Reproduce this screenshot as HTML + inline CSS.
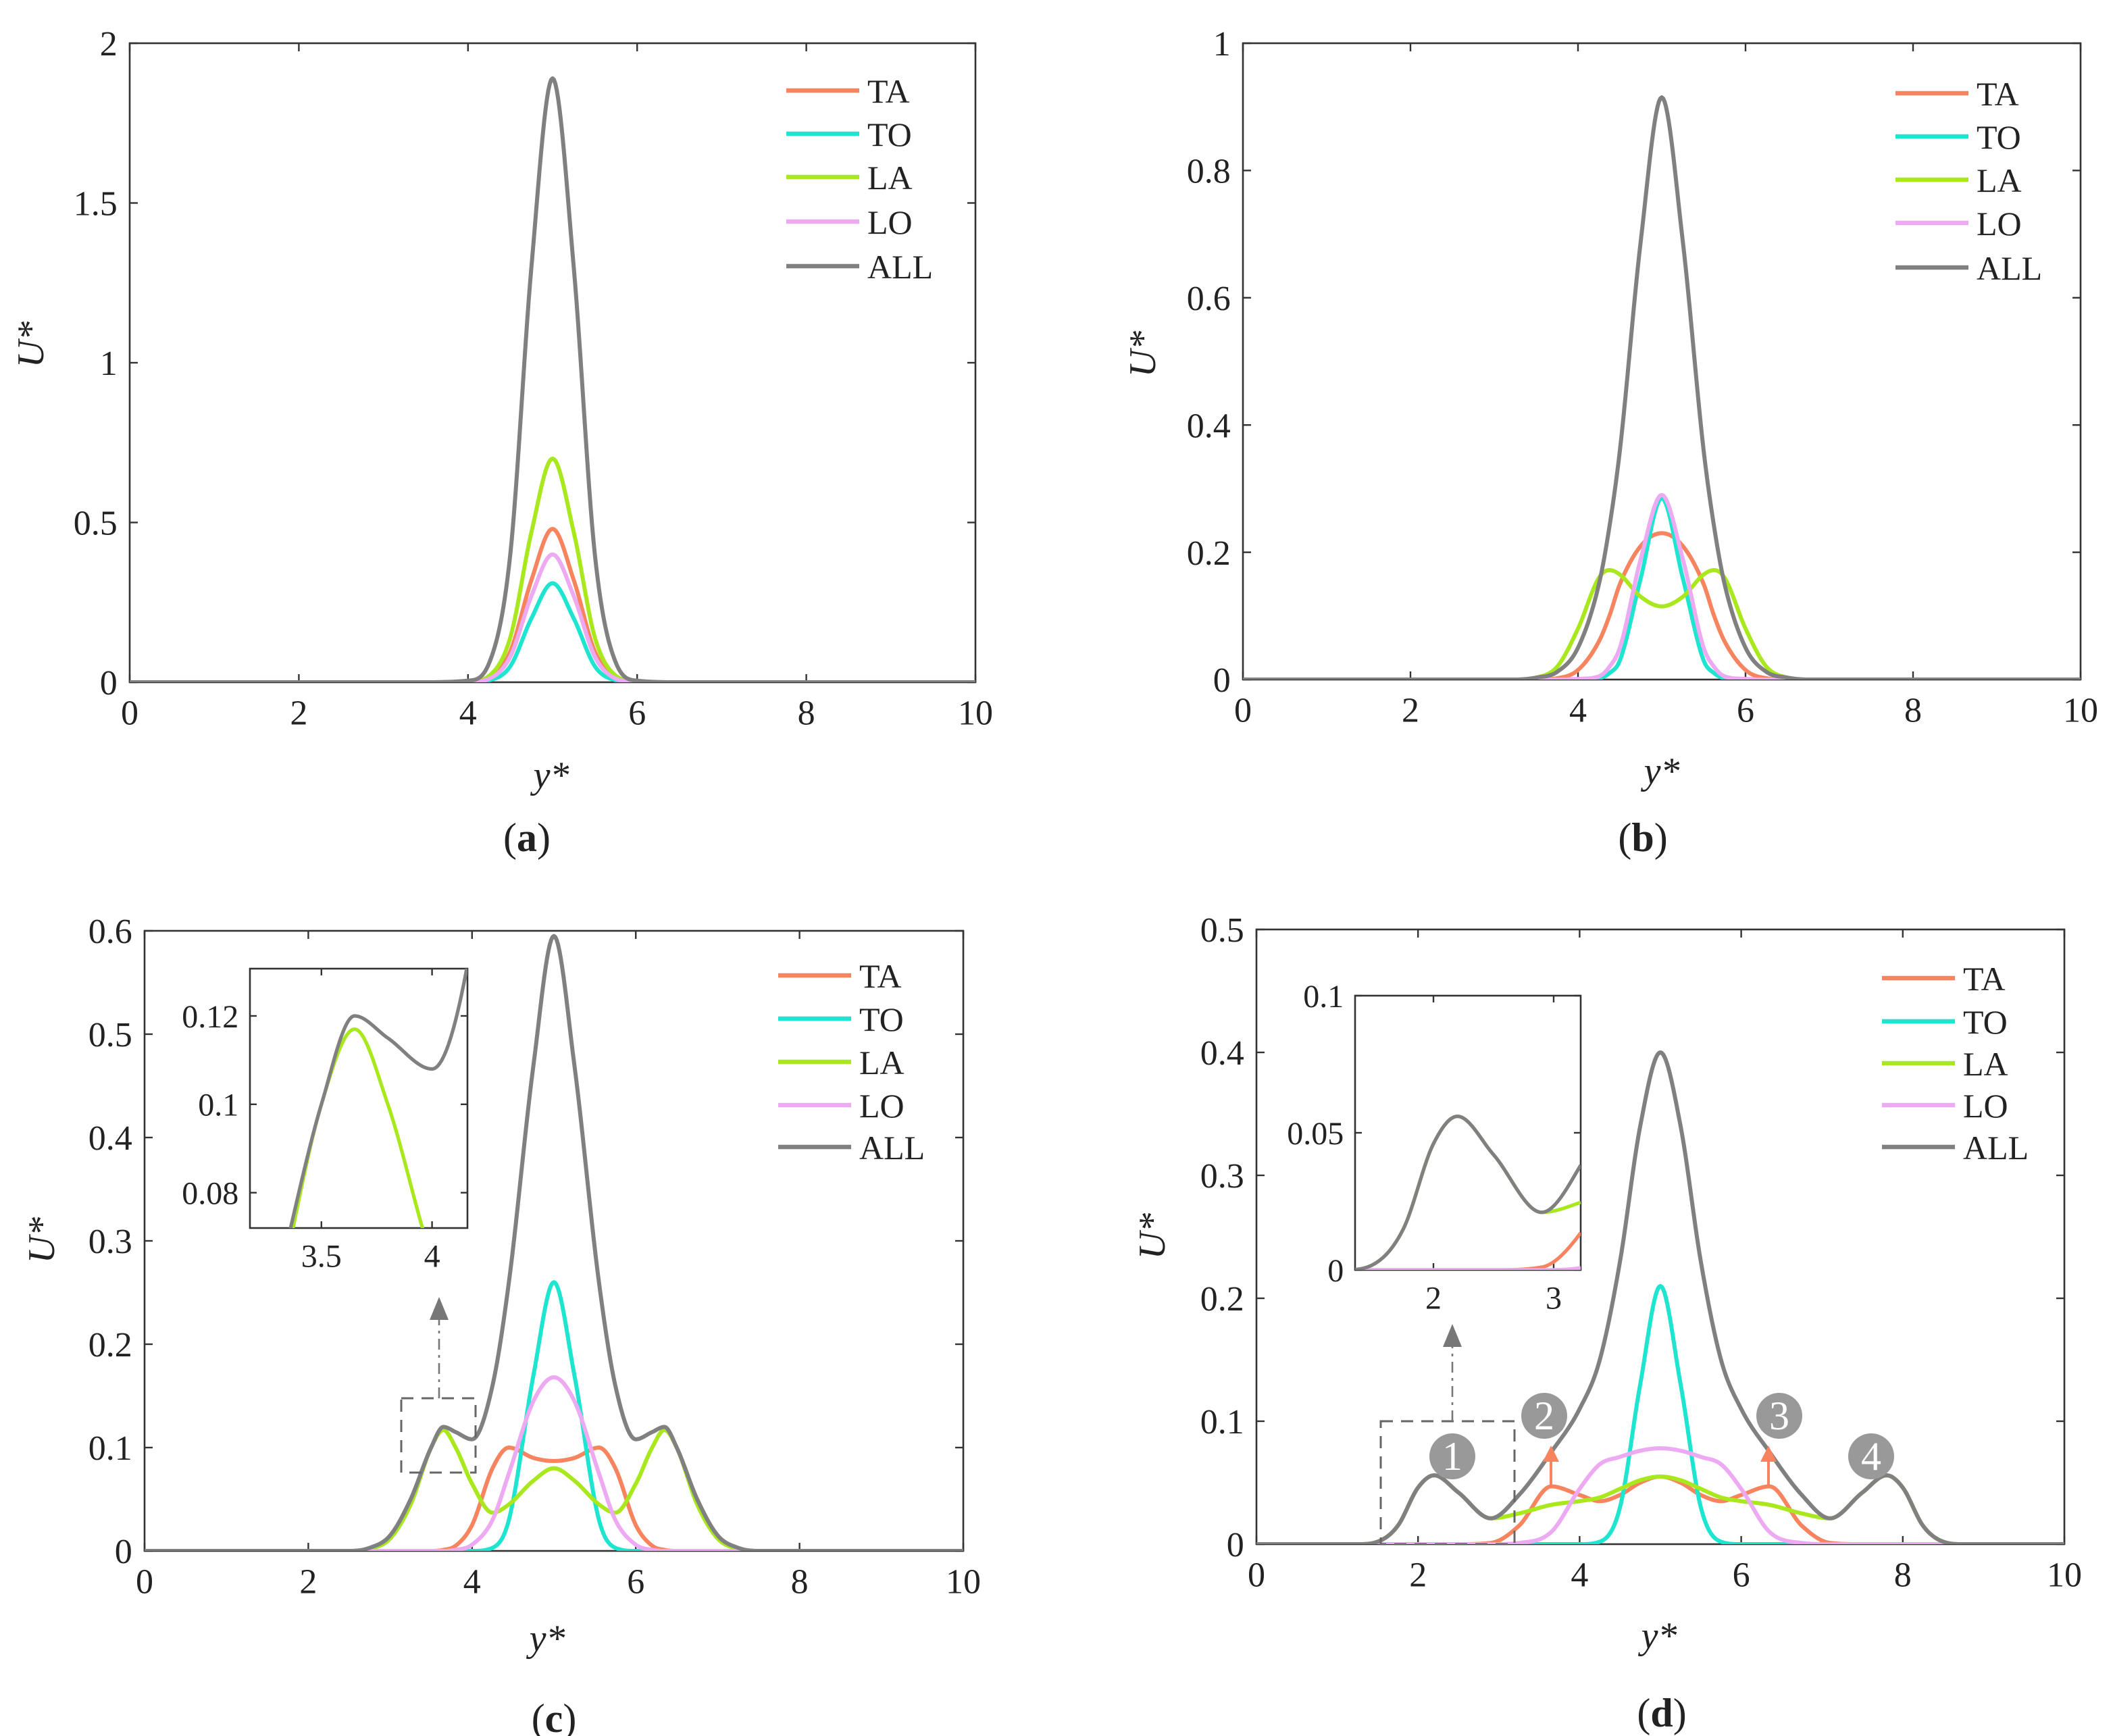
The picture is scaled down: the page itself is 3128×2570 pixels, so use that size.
<!DOCTYPE html>
<html><head><meta charset="utf-8">
<style>
html,body{margin:0;padding:0;background:#fff}
svg{display:block}
</style></head>
<body>
<svg id="fig" width="3128" height="2570" viewBox="0 0 1564 1285" xmlns="http://www.w3.org/2000/svg" font-family="'Liberation Serif', 'DejaVu Serif', serif" fill="#222"></svg>
<script>
// ---------- data ----------
const xA = [0,3.5,4,4.25,4.5,4.75,5,5.25,5.5,5.75,6,6.5,10];
const aTA = [0,0,0.001,0.013,0.096,0.32,0.48,0.32,0.096,0.013,0.001,0,0];
const aTO = [0,0,0,0.006,0.05,0.2,0.31,0.2,0.05,0.006,0,0,0];
const aLA = [0,0,0.002,0.02,0.14,0.47,0.70,0.47,0.14,0.02,0.002,0,0];
const aLO = [0,0,0.001,0.011,0.08,0.27,0.40,0.27,0.08,0.011,0.001,0,0];
const aALL = [0,0,0.005,0.06,0.4,1.3,1.89,1.3,0.4,0.06,0.005,0,0];

const xB = [0,3.25,3.5,3.75,4,4.25,4.375,4.5,4.75,5,5.25,5.5,5.625,5.75,6,6.25,6.5,6.75,10];
const bTA = [0,0,0,0.002,0.015,0.06,0.1,0.15,0.21,0.23,0.21,0.15,0.1,0.06,0.015,0.002,0,0,0];
const bTO = [0,0,0,0,0,0.002,0.01,0.03,0.16,0.285,0.16,0.03,0.01,0.002,0,0,0,0,0];
const bLA = [0,0,0.003,0.02,0.08,0.16,0.172,0.165,0.13,0.115,0.13,0.165,0.172,0.16,0.08,0.02,0.003,0,0];
const bLO = [0,0,0,0,0.001,0.005,0.02,0.05,0.19,0.29,0.19,0.05,0.02,0.005,0.001,0,0,0,0];
const bALL = [0,0,0.003,0.012,0.05,0.15,0.24,0.36,0.69,0.915,0.69,0.36,0.24,0.15,0.05,0.012,0.003,0,0];

const xC = [0,2.5,2.75,3,3.25,3.5,3.65,3.8,4,4.25,4.45,4.75,5,5.25,5.55,5.75,6,6.2,6.35,6.5,6.75,7,7.25,7.5,10];
const cTA = [0,0,0,0,0,0,0.001,0.005,0.025,0.08,0.1,0.09,0.087,0.09,0.1,0.08,0.025,0.005,0.001,0,0,0,0,0,0];
const cTO = [0,0,0,0,0,0,0,0,0,0.003,0.03,0.17,0.26,0.17,0.03,0.003,0,0,0,0,0,0,0,0,0];
const cLA = [0,0,0.002,0.012,0.045,0.1,0.117,0.1,0.065,0.037,0.045,0.068,0.08,0.068,0.045,0.037,0.065,0.1,0.117,0.1,0.045,0.012,0.002,0,0];
const cLO = [0,0,0,0,0,0,0,0.001,0.006,0.03,0.075,0.145,0.168,0.145,0.075,0.03,0.006,0.001,0,0,0,0,0,0,0];
const cALL = [0,0,0.003,0.015,0.05,0.1,0.12,0.115,0.108,0.16,0.26,0.47,0.595,0.47,0.26,0.16,0.108,0.115,0.12,0.1,0.05,0.015,0.003,0,0];

const xD = [0,1.25,1.5,1.75,2,2.2,2.5,2.9,3.25,3.65,4,4.25,4.5,4.75,5,5.25,5.5,5.75,6,6.35,6.75,7.1,7.5,7.8,8,8.25,8.5,8.75,10];
const dTA = [0,0,0,0,0,0,0,0.001,0.015,0.047,0.04,0.035,0.04,0.05,0.055,0.05,0.04,0.035,0.04,0.047,0.015,0.001,0,0,0,0,0,0,0];
const dTO = [0,0,0,0,0,0,0,0,0,0,0,0.002,0.03,0.13,0.21,0.13,0.03,0.002,0,0,0,0,0,0,0,0,0,0,0];
const dLA = [0,0,0.002,0.015,0.046,0.056,0.042,0.021,0.025,0.032,0.035,0.038,0.045,0.052,0.055,0.052,0.045,0.038,0.035,0.032,0.025,0.021,0.042,0.056,0.046,0.015,0.002,0,0];
const dLO = [0,0,0,0,0,0,0,0,0.001,0.01,0.045,0.065,0.071,0.076,0.078,0.076,0.071,0.065,0.045,0.01,0.001,0,0,0,0,0,0,0,0];
const dALL = [0,0,0.002,0.015,0.046,0.056,0.042,0.021,0.04,0.075,0.11,0.15,0.23,0.34,0.4,0.34,0.23,0.15,0.11,0.075,0.04,0.021,0.042,0.056,0.046,0.015,0.002,0,0];

const xTicks = [0,2,4,6,8,10];
const yTicksA = [0,0.5,1,1.5,2];
const yTicksB = [0,0.2,0.4,0.6,0.8,1];
const yTicksC = [0,0.1,0.2,0.3,0.4,0.5,0.6];
const yTicksD = [0,0.1,0.2,0.3,0.4,0.5];
const seriesNames = ["TA","TO","LA","LO","ALL"];
const colors = {TA:"#F7845E",TO:"#1DE5D0",LA:"#A9E81C",LO:"#EDAAF2",ALL:"#808080"};

// ---------- helpers ----------
const NS="http://www.w3.org/2000/svg";
const svg=document.getElementById('fig');
const FONT="'Liberation Serif', 'DejaVu Serif', serif";
function mk(tag,attrs,parent){const e=document.createElementNS(NS,tag);for(const k in attrs)e.setAttribute(k,attrs[k]);if(tag==='text'){e.setAttribute('font-family',FONT);if(!attrs.fill)e.setAttribute('fill','#222');}(parent||svg).appendChild(e);return e;}
function monotone(xs,ys){
  const n=xs.length,d=[],m=[];
  for(let i=0;i<n-1;i++)d.push((ys[i+1]-ys[i])/(xs[i+1]-xs[i]));
  m[0]=d[0];m[n-1]=d[n-2];
  for(let i=1;i<n-1;i++){m[i]=(d[i-1]*d[i]<=0)?0:(d[i-1]+d[i])/2;}
  for(let i=0;i<n-1;i++){if(d[i]===0){m[i]=0;m[i+1]=0;continue;}
    const a=m[i]/d[i],b=m[i+1]/d[i],s=a*a+b*b;if(s>9){const t=3/Math.sqrt(s);m[i]=t*a*d[i];m[i+1]=t*b*d[i];}}
  return function(x){let i=0;while(i<n-2&&x>xs[i+1])i++;const h=xs[i+1]-xs[i],t=(x-xs[i])/h;
    const h00=2*t*t*t-3*t*t+1,h10=t*t*t-2*t*t+t,h01=-2*t*t*t+3*t*t,h11=t*t*t-t*t;
    return h00*ys[i]+h10*h*m[i]+h01*ys[i+1]+h11*h*m[i+1];};
}
function axes(g,box,xr,yr,xt,yt,fs,tl,name){
  const sx=v=>box.x0+(v-xr[0])/(xr[1]-xr[0])*(box.x1-box.x0);
  const sy=v=>box.y1-(v-yr[0])/(yr[1]-yr[0])*(box.y1-box.y0);
  mk('rect',{x:box.x0,y:box.y0,width:box.x1-box.x0,height:box.y1-box.y0,fill:'none',stroke:'#333','stroke-width':1.3,},g);
  xt.forEach(v=>{const x=sx(v);
    mk('line',{x1:x,y1:box.y1,x2:x,y2:box.y1-tl,stroke:'#333','stroke-width':1.2},g);
    mk('line',{x1:x,y1:box.y0,x2:x,y2:box.y0+tl,stroke:'#333','stroke-width':1.2},g);
    const t=mk('text',{x:x,y:box.y1+fs*1.2,'font-size':fs,'text-anchor':'middle',},g);t.textContent=String(v);});
  yt.forEach(v=>{const y=sy(v);
    mk('line',{x1:box.x0,y1:y,x2:box.x0+tl,y2:y,stroke:'#333','stroke-width':1.2},g);
    mk('line',{x1:box.x1,y1:y,x2:box.x1-tl,y2:y,stroke:'#333','stroke-width':1.2},g);
    const t=mk('text',{x:box.x0-fs*0.35,y:y+fs*0.35,'font-size':fs,'text-anchor':'end',},g);t.textContent=String(v);});
  return {sx,sy};
}
let clipId=0;
function curves(g,box,sc,xs,data,xr,lw){
  const id='clip'+(clipId++);
  const cp=mk('clipPath',{id:id},g);mk('rect',{x:box.x0,y:box.y0,width:box.x1-box.x0,height:box.y1-box.y0},cp);
  seriesNames.forEach((s,k)=>{const f=monotone(xs,data[k]);let d='';
    for(let i=0;i<=600;i++){const x=xr[0]+(xr[1]-xr[0])*i/600;d+=(i?'L':'M')+sc.sx(x).toFixed(2)+','+sc.sy(f(x)).toFixed(2);}
    const p=mk('path',{d:d,fill:'none',stroke:colors[s],'stroke-width':lw,'stroke-linejoin':'round','clip-path':'url(#'+id+')'},g);
    
    
  });
}
function legend(g,x,ys){seriesNames.forEach((s,k)=>{
  mk('line',{x1:x,y1:ys[k],x2:x+54,y2:ys[k],stroke:colors[s],'stroke-width':3.2,},g);
  const t=mk('text',{x:x+60,y:ys[k]+9,'font-size':25,},g);t.textContent=s;});}
function labels(g,ux,uy,yx,yy,cx,cy,letter){
  const u=mk('text',{x:ux,y:uy,'font-size':28,'font-style':'italic','text-anchor':'middle',transform:`rotate(-90 ${ux} ${uy})`,},g);u.textContent='U*';
  const y=mk('text',{x:yx,y:yy,'font-size':28,'font-style':'italic','text-anchor':'middle',},g);y.textContent='y*';
  const c=mk('text',{x:cx,y:cy,'font-size':30,'text-anchor':'middle',},g);
  c.innerHTML='(<tspan font-weight="bold">'+letter+'</tspan>)';
}
function panel(name){const g=mk('g',{});return g;}

// ---------- panel a ----------
let g=panel('panel-a');let box={x0:96,x1:722,y0:32,y1:505};
let sc=axes(g,box,[0,10],[0,2],xTicks,yTicksA,26,6,'panel-a');
curves(g,box,sc,xA,[aTA,aTO,aLA,aLO,aALL],[0,10],3);
legend(g,582,[67,99,131,164,197]);labels(g,32,255,408,583,390,630,'a');

// ---------- panel b ----------
g=panel('panel-b');box={x0:920,x1:1540,y0:32,y1:503};
sc=axes(g,box,[0,10],[0,1],xTicks,yTicksB,26,6,'panel-b');
curves(g,box,sc,xB,[bTA,bTO,bLA,bLO,bALL],[0,10],3);
legend(g,1403,[69,101,133,165,198]);labels(g,855,262,1230,580,1216,630,'b');

// ---------- panel c ----------
g=panel('panel-c');box={x0:107,x1:713,y0:689,y1:1148};
sc=axes(g,box,[0,10],[0,0.6],xTicks,yTicksC,26,6,'panel-c');
curves(g,box,sc,xC,[cTA,cTO,cLA,cLO,cALL],[0,10],3);
legend(g,576,[722,754,786,818,849]);labels(g,40,918,405,1222,410,1282,'c');
mk('rect',{x:297,y:1035,width:55,height:55,fill:'none',stroke:'#666','stroke-width':1.5,'stroke-dasharray':'9,6',},g);
mk('line',{x1:325,y1:1035,x2:325,y2:975,stroke:'#777','stroke-width':1.3,'stroke-dasharray':'8,4,2,4',},g);
mk('polygon',{points:'318,977 332,977 325,960',fill:'#777'},g);
let ib={x0:185,x1:346,y0:717,y1:909};
let isc=axes(g,ib,[3.177,4.16],[0.072,0.1307],[3.5,4],[0.08,0.1,0.12],24,5,'inset-c');
curves(g,ib,isc,xC,[cTA,cTO,cLA,cLO,cALL],[3.177,4.16],2.6);

// ---------- panel d ----------
g=panel('panel-d');box={x0:930,x1:1528,y0:688,y1:1143};
sc=axes(g,box,[0,10],[0,0.5],xTicks,yTicksD,26,6,'panel-d');
curves(g,box,sc,xD,[dTA,dTO,dLA,dLO,dALL],[0,10],3);
legend(g,1393,[724,756,787,818,849]);labels(g,862,915,1228,1220,1230,1278,'d');
mk('rect',{x:1022,y:1052,width:99,height:91,fill:'none',stroke:'#666','stroke-width':1.5,'stroke-dasharray':'9,6',},g);
mk('line',{x1:1075,y1:1052,x2:1075,y2:995,stroke:'#777','stroke-width':1.3,'stroke-dasharray':'8,4,2,4',},g);
mk('polygon',{points:'1068,997 1082,997 1075,980',fill:'#777'},g);
[[1148,1100,1074],[1309,1100,1074]].forEach(a=>{
  mk('line',{x1:a[0],y1:a[1],x2:a[0],y2:a[2]+6,stroke:'#F7845E','stroke-width':2,},g);
  mk('polygon',{points:`${a[0]-6},${a[2]+8} ${a[0]+6},${a[2]+8} ${a[0]},${a[2]-4}`,fill:'#F7845E'},g);});
[[1075,1078,'1'],[1143,1048,'2'],[1317,1048,'3'],[1385,1078,'4']].forEach(c=>{
  mk('circle',{cx:c[0],cy:c[1],r:17,fill:'#999',},g);
  const t=mk('text',{x:c[0],y:c[1]+10,'font-size':30,'text-anchor':'middle',fill:'#fff',},g);t.textContent=c[2];});
ib={x0:1003,x1:1170,y0:737,y1:940};
isc=axes(g,ib,[1.348,3.225],[0,0.1],[2,3],[0,0.05,0.1],24,5,'inset-d');
curves(g,ib,isc,xD,[dTA,dTO,dLA,dLO,dALL],[1.348,3.225],2.6);
</script>
</body></html>
